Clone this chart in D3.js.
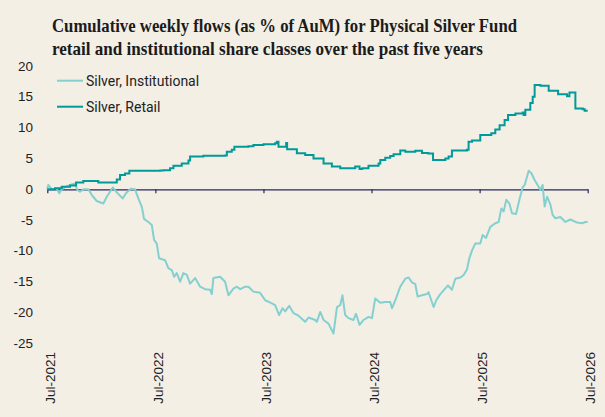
<!DOCTYPE html>
<html>
<head>
<meta charset="utf-8">
<script src="https://cdn.jsdelivr.net/npm/d3@7"></script>
<style>
  html, body { margin: 0; padding: 0; background: #f3efe5; }
  svg { display: block; }
</style>
</head>
<body>
<div id="chart"></div>
<script>
// Title lines
const titleLines = [
    "Cumulative weekly flows (as % of AuM) for Physical Silver Fund",
    "retail and institutional share classes over the past five years"
];

// Series names
const seriesNames = ["Silver, Institutional", "Silver, Retail"];

// Axis ticks
const yTicks = [20, 15, 10, 5, 0, -5, -10, -15, -20, -25];
const xTickYears = [2021.5, 2022.5, 2023.5, 2024.5, 2025.5, 2026.5];
const xTickLabels = ["Jul-2021", "Jul-2022", "Jul-2023", "Jul-2024", "Jul-2025", "Jul-2026"];

// Institutional share class (decimal year, cumulative % of AuM)
const instYears = [
    2021.500, 2021.509, 2021.544, 2021.590, 2021.611, 2021.633, 2021.680, 2021.726, 2021.756, 2021.778,
    2021.803, 2021.833, 2021.880, 2021.911, 2021.957, 2022.019, 2022.050, 2022.106, 2022.143, 2022.198,
    2022.229, 2022.272, 2022.312, 2022.343, 2022.374, 2022.395, 2022.435, 2022.467, 2022.488, 2022.513,
    2022.534, 2022.590, 2022.620, 2022.652, 2022.673, 2022.698, 2022.729, 2022.759, 2022.791, 2022.821,
    2022.868, 2022.914, 2022.960, 2023.007, 2023.022, 2023.037, 2023.099, 2023.145, 2023.176, 2023.222,
    2023.254, 2023.285, 2023.331, 2023.361, 2023.407, 2023.469, 2023.516, 2023.578, 2023.608, 2023.645,
    2023.676, 2023.701, 2023.738, 2023.778, 2023.824, 2023.886, 2023.917, 2023.979, 2023.994, 2024.025,
    2024.056, 2024.102, 2024.148, 2024.180, 2024.210, 2024.231, 2024.256, 2024.287, 2024.333, 2024.356,
    2024.389, 2024.426, 2024.472, 2024.504, 2024.534, 2024.581, 2024.627, 2024.673, 2024.689, 2024.720,
    2024.766, 2024.812, 2024.843, 2024.874, 2024.905, 2024.926, 2024.967, 2025.013, 2025.028, 2025.074,
    2025.099, 2025.136, 2025.167, 2025.207, 2025.244, 2025.275, 2025.322, 2025.352, 2025.383, 2025.405,
    2025.430, 2025.460, 2025.506, 2025.528, 2025.559, 2025.599, 2025.645, 2025.676, 2025.701, 2025.722,
    2025.747, 2025.775, 2025.800, 2025.837, 2025.868, 2025.898, 2025.917, 2025.954, 2025.979, 2026.009,
    2026.046, 2026.062, 2026.083, 2026.102, 2026.124, 2026.155, 2026.176, 2026.201, 2026.247, 2026.294,
    2026.340, 2026.402, 2026.448, 2026.479, 2026.500
];
const instValues = [
    0.0, 0.7, 0.0, 0.0, -0.65, 0.0, 0.5, 0.8, 0.9, -0.1,
    -0.4, 0.0, 0.0, -0.9, -1.9, -2.3, -1.2, 0.3, -0.5, -1.5,
    -0.6, 0.1, 0.0, -1.5, -2.8, -4.8, -5.3, -5.8, -8.2, -8.8,
    -11.2, -11.5, -12.8, -13.1, -14.2, -13.6, -15.0, -13.6, -13.9, -15.3,
    -14.4, -15.8, -16.2, -16.3, -17.0, -14.4, -14.2, -15.0, -17.2, -16.1,
    -15.8, -16.2, -15.8, -15.8, -16.6, -16.8, -18.0, -18.5, -18.8, -20.4,
    -19.3, -19.8, -18.9, -20.1, -20.5, -21.5, -20.8, -21.2, -21.5, -19.9,
    -21.2, -21.8, -23.4, -19.1, -18.8, -17.2, -20.4, -20.9, -21.2, -20.2,
    -22.0, -21.2, -20.7, -20.9, -17.7, -18.4, -18.3, -18.3, -19.3, -18.0,
    -15.8, -14.5, -14.3, -15.1, -15.4, -17.4, -17.2, -17.0, -16.7, -19.1,
    -18.0, -17.0, -16.4, -15.6, -16.3, -14.5, -14.3, -13.9, -13.0, -11.2,
    -9.9, -8.8, -8.8, -7.4, -7.9, -6.1, -5.5, -5.3, -3.1, -3.6,
    -1.7, -2.3, -3.9, -4.0, -1.7, 0.3, 0.7, 3.0, 2.6, 1.5,
    0.4, -0.1, 0.7, -2.8, -1.2, -2.5, -4.2, -4.7, -4.5, -5.3,
    -4.9, -5.4, -5.5, -5.3, -5.3
];

// Retail share class: the level changes in steps (decimal year, cumulative % of AuM)
const retailYears = [
    2021.500, 2021.571, 2021.633, 2021.710, 2021.766, 2021.833, 2021.972, 2022.143, 2022.173, 2022.219,
    2022.259, 2022.544, 2022.574, 2022.636, 2022.667, 2022.744, 2022.806, 2022.821, 2022.944, 2023.145,
    2023.161, 2023.207, 2023.231, 2023.361, 2023.407, 2023.500, 2023.608, 2023.624, 2023.639, 2023.710,
    2023.719, 2023.809, 2023.886, 2023.963, 2024.056, 2024.133, 2024.210, 2024.349, 2024.389, 2024.414,
    2024.472, 2024.565, 2024.581, 2024.627, 2024.673, 2024.704, 2024.766, 2024.812, 2024.905, 2024.967,
    2025.025, 2025.069, 2025.183, 2025.213, 2025.244, 2025.383, 2025.398, 2025.430, 2025.506, 2025.608,
    2025.645, 2025.685, 2025.731, 2025.763, 2025.831, 2025.898, 2025.907, 2025.923, 2025.969, 2025.991,
    2026.009, 2026.062, 2026.139, 2026.226, 2026.309, 2026.331, 2026.386, 2026.454, 2026.472, 2026.500
];
const retailValues = [
    0.0, 0.15, 0.4, 0.6, 1.1, 1.35, 1.1, 1.6, 2.3, 2.55,
    3.0, 3.05, 3.1, 3.4, 3.8, 4.2, 4.65, 5.3, 5.45, 5.5,
    6.1, 6.4, 6.9, 7.0, 7.2, 7.3, 7.45, 7.7, 6.9, 7.5,
    6.5, 5.85, 5.55, 5.0, 4.2, 3.7, 3.4, 3.7, 3.3, 3.4,
    3.8, 4.2, 4.75, 5.1, 5.4, 5.7, 6.3, 6.1, 6.25, 5.9,
    5.8, 4.75, 5.0, 5.3, 6.3, 6.4, 7.7, 7.9, 8.8, 9.1,
    9.7, 10.4, 11.25, 12.05, 12.3, 12.45, 12.05, 12.9, 14.0, 15.0,
    16.9, 16.8, 16.0, 15.4, 15.1, 15.7, 13.1, 13.0, 12.75, 12.75
];

const width = 605, height = 417;
const colors = { inst: "#84d0d0", retail: "#009a9a", axis: "#2a2760", text: "#222222" };

const svg = d3.select("#chart").append("svg")
    .attr("width", width)
    .attr("height", height);

svg.append("rect")
    .attr("width", width)
    .attr("height", height)
    .attr("fill", "#f3efe5");

// Title
svg.append("g")
    .selectAll("text")
    .data(titleLines)
    .enter()
    .append("text")
    .attr("x", 52)
    .attr("y", (d, i) => 32 + i * 22.5)
    .attr("font-family", "'Liberation Serif', 'DejaVu Serif', serif")
    .attr("font-weight", "bold")
    .attr("font-size", "19px")
    .attr("fill", "#1b1b1b")
    .attr("textLength", (d, i) => i === 0 ? 465 : 431)
    .attr("lengthAdjust", "spacingAndGlyphs")
    .text(d => d);

// Scales
const x = d3.scaleLinear()
    .domain([2021.5, 2026.5])
    .range([47.3, 587.7]);

const y = d3.scaleLinear()
    .domain([-25, 20])
    .range([343.4, 66]);

// Y axis labels (no axis line)
svg.append("g")
    .selectAll("text")
    .data(yTicks)
    .enter()
    .append("text")
    .attr("x", 33)
    .attr("y", d => y(d))
    .attr("text-anchor", "end")
    .attr("dominant-baseline", "central")
    .attr("font-family", "'Liberation Sans', Arial, sans-serif")
    .attr("font-size", "13.5px")
    .attr("fill", colors.text)
    .text(d => d);

// Zero line with year ticks
const xAxis = d3.axisBottom(x)
    .tickValues(xTickYears)
    .tickSize(4)
    .tickSizeOuter(0)
    .tickFormat("");

const axisG = svg.append("g")
    .attr("transform", `translate(0,${y(0)})`)
    .call(xAxis);
axisG.select(".domain").attr("stroke", colors.axis).attr("stroke-width", 1.2);
axisG.selectAll(".tick line").attr("stroke", colors.axis).attr("stroke-width", 1.2);

// X labels, rotated, along the bottom
svg.append("g")
    .selectAll("text")
    .data(xTickYears)
    .enter()
    .append("text")
    .attr("transform", (d, i) => `translate(${x(d) + 7.5},352) rotate(-90)`)
    .attr("text-anchor", "end")
    .attr("font-family", "'Liberation Sans', Arial, sans-serif")
    .attr("font-size", "13.5px")
    .attr("fill", colors.text)
    .text((d, i) => xTickLabels[i]);

// Lines
const instData = instYears.map((t, i) => ({ t, v: instValues[i] }));
const retailData = retailYears.map((t, i) => ({ t, v: retailValues[i] }));

svg.append("path")
    .datum(instData)
    .attr("fill", "none")
    .attr("stroke", colors.inst)
    .attr("stroke-width", 2)
    .attr("stroke-linejoin", "round")
    .attr("d", d3.line().x(d => x(d.t)).y(d => y(d.v)));

svg.append("path")
    .datum(retailData)
    .attr("fill", "none")
    .attr("stroke", colors.retail)
    .attr("stroke-width", 2)
    .attr("d", d3.line().curve(d3.curveStepAfter).x(d => x(d.t)).y(d => y(d.v)));

// Legend
const legend = svg.append("g")
    .selectAll("g")
    .data(seriesNames)
    .enter()
    .append("g")
    .attr("transform", (d, i) => `translate(57,${80.7 + i * 26})`);

legend.append("line")
    .attr("x1", 0)
    .attr("x2", 26)
    .attr("stroke", (d, i) => i === 0 ? colors.inst : colors.retail)
    .attr("stroke-width", 2);

legend.append("text")
    .attr("x", 29)
    .attr("dominant-baseline", "central")
    .attr("font-family", "Roboto, 'Noto Sans', sans-serif")
    .attr("font-size", "14px")
    .attr("fill", colors.text)
    .text(d => d);
</script>
</body>
</html>
